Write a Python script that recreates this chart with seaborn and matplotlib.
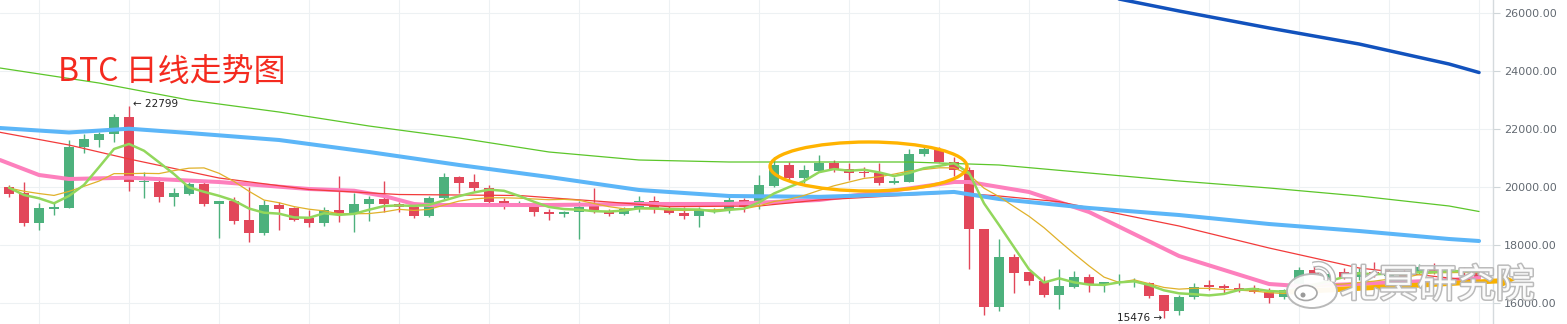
import numpy as np
import pandas as pd
import matplotlib
matplotlib.use("Agg")
import matplotlib.pyplot as plt
import seaborn as sns
from matplotlib.patches import Ellipse, FancyArrow, Arc, Circle
import matplotlib.patheffects as pe

# ---------------- data ----------------
open_ = [19990, 19803, 18769, 19252, 19286, 21369, 21631, 21817, 22403, 20172,
         20162, 19666, 19759, 20103, 19403, 19517, 18862, 18414, 19379, 19276,
         18931, 18769, 19207, 19069, 19403, 19586, 19414, 19300, 19010, 19610,
         20334, 20162, 19955, 19517, 19403, 19379, 19148, 19059, 19128, 19379,
         19148, 19059, 19266, 19528, 19207, 19093, 19010, 19172, 19231, 19552,
         19414, 20045, 20759, 20300, 20562, 20817, 20610, 20528, 20472, 20128,
         20183, 21128, 21300, 20872, 20586, 18552, 15873, 17576, 17059, 16759,
         16276, 16562, 16886, 16655, 16679, 16714, 16679, 16276, 15735, 16197,
         16621, 16586, 16507, 16507, 16390, 16207, 16655, 17138, 16793, 17059,
         16907, 17079, 16931, 17045, 17045, 17197, 17069, 17172, 17024]
close = [19759, 18769, 19266, 19300, 21369, 21655, 21827, 22403, 20162, 20207,
         19666, 19793, 20103, 19403, 19517, 18838, 18431, 19379, 19241, 18873,
         18769, 19207, 19103, 19414, 19586, 19403, 19321, 19010, 19610, 20334,
         20148, 19955, 19493, 19414, 19459, 19128, 19059, 19138, 19300, 19207,
         19059, 19241, 19528, 19286, 19093, 19000, 19207, 19207, 19552, 19300,
         20069, 20759, 20300, 20586, 20838, 20610, 20472, 20472, 20128, 20207,
         21128, 21300, 20872, 20586, 18541, 15873, 17576, 17045, 16769, 16276,
         16586, 16886, 16655, 16714, 16714, 16769, 16252, 15735, 16197, 16562,
         16562, 16507, 16424, 16390, 16183, 16448, 17138, 17000, 17000, 16907,
         17079, 16966, 17104, 16907, 17252, 17079, 17172, 17069, 16907]
high = [20069, 20183, 19459, 19438, 21621, 21817, 21886, 22507, 22799, 20528,
        20334, 19955, 20162, 20162, 19517, 19666, 20000, 19552, 19493, 19321,
        19190, 19321, 20379, 19793, 19690, 20207, 19493, 19379, 19690, 20472,
        20379, 20448, 20069, 19610, 19528, 19459, 19231, 19183, 19528, 19955,
        19231, 19321, 19690, 19700, 19345, 19321, 19300, 19266, 19666, 19610,
        20414, 21024, 20872, 20759, 21103, 20931, 20838, 20700, 20817, 20355,
        21300, 21448, 21390, 21045, 20700, 18560, 18197, 17690, 17070, 16942,
        17162, 17114, 17000, 16735, 17000, 16852, 16735, 16290, 16276, 16700,
        16793, 16655, 16700, 16620, 16507, 16470, 17240, 17345, 17104, 17207,
        17207, 17424, 17207, 17138, 17345, 17369, 17276, 17231, 17103]
low = [19645, 18655, 18517, 19035, 19270, 21162, 21369, 21562, 19872, 19631,
       19493, 19345, 19740, 19345, 18252, 18724, 18114, 18362, 18517, 18828,
       18621, 18655, 18804, 18459, 18828, 19148, 19148, 18921, 18955, 19576,
       19783, 19872, 19414, 19241, 19379, 19010, 18862, 18976, 18197, 19093,
       19000, 19035, 19148, 19093, 19069, 18886, 18631, 19114, 19093, 19148,
       19231, 20010, 20241, 20128, 20528, 20528, 20241, 20355, 20069, 20093,
       20170, 21069, 20852, 20390, 17162, 15586, 15724, 16335, 16621, 16217,
       15793, 16507, 16369, 16390, 16621, 16541, 16162, 15476, 15586, 16128,
       16448, 16355, 16390, 16345, 15990, 16138, 16380, 16966, 16724, 16828,
       16793, 16907, 16828, 16828, 17000, 17000, 17000, 16966, 16828]
# closes of the days just before the visible window (for the short averages)
prev_close = [19900, 20050, 19950, 19980, 19900, 20029, 19834, 20162, 20096]

# long moving averages (day index, price)
ma_green_day = [-0.6, 6, 12, 18, 24, 30, 36, 42, 48, 54, 60, 66, 72, 78, 84, 90, 96, 98]
ma_green_val = [24103, 23586, 23000, 22586, 22103, 21690, 21207, 20931, 20862, 20862,
                20862, 20759, 20483, 20207, 19966, 19690, 19345, 19155]
ma_blue_day = [-0.6, 4, 8, 12, 18, 24, 30, 36, 42, 48, 54, 60, 63, 66, 72, 78, 84, 90, 96, 98]
ma_blue_val = [22034, 21880, 22010, 21862, 21621, 21207, 20759, 20345, 19897, 19690,
               19660, 19759, 19830, 19586, 19276, 19034, 18724, 18483, 18207, 18138]
ma_red_day = [-0.6, 4, 8, 14, 20, 26, 34, 40, 44, 50, 54, 60, 63, 66, 70, 78, 84, 90, 96, 98]
ma_red_val = [21886, 21448, 20966, 20310, 19914, 19741, 19707, 19483, 19321, 19345,
              19552, 19724, 19803, 19690, 19493, 18655, 17897, 17207, 16862, 16759]
ma_pink_day = [-0.6, 2, 4, 8, 14, 20, 23, 25, 27, 28, 36, 42, 48, 54, 60, 63, 64, 66,
               68, 72, 78, 84, 86, 90, 96, 98]
ma_pink_val = [20931, 20414, 20276, 20321, 20172, 19931, 19872, 19690, 19414, 19379,
               19379, 19414, 19414, 19552, 19950, 20172, 20172, 20000, 19828, 19138,
               17621, 16655, 16586, 16655, 16793, 16862]
ma_dark_day = [72, 78, 84, 90, 96, 98]
ma_dark_val = [26689, 26069, 25483, 24931, 24241, 23948]

y_ticks = [16000, 18000, 20000, 22000, 24000, 26000]
title = "BTC 日线走势图"
watermark = "北冥研究院"

# ---------------- figure ----------------
sns.set_style("white")
plt.rcParams['font.family'] = ['DejaVu Sans']

W, H = 1567, 324
fig = plt.figure(figsize=(W / 100, H / 100), dpi=100)
ax = fig.add_axes([0, 0, 1493 / W, 1])

n = len(close)
days = np.arange(n)
df = pd.DataFrame({"day": days, "open": open_, "close": close, "high": high, "low": low})
up = df["close"] >= df["open"]
GREEN, RED = "#4db17d", "#e2475a"
colors = np.where(up, GREEN, RED)

# candles
ax.vlines(df["day"], df["low"], df["high"], colors=colors, lw=1.0, zorder=2)
body_bottom = np.minimum(df["open"], df["close"])
body_h = np.maximum(np.abs(df["close"] - df["open"]), 25)
ax.bar(df["day"], body_h, bottom=body_bottom, width=0.72, color=colors, zorder=2, linewidth=0)

# short moving averages from closes
allc = pd.Series(prev_close + close, dtype=float)
ma5 = allc.rolling(5).mean().iloc[len(prev_close):].to_numpy()
ma10 = allc.rolling(10).mean().iloc[len(prev_close):].to_numpy()

def line(x, y, color, lw, z):
    sns.lineplot(x=x, y=y, ax=ax, color=color, lw=lw, zorder=z, legend=False,
                 solid_capstyle='round', solid_joinstyle='round')

line(ma_green_day, ma_green_val, "#5cc62a", 0.9, 3)
line(ma_pink_day, ma_pink_val, "#fd80bd", 2.9, 3.1)
line(ma_red_day, ma_red_val, "#f23b3b", 0.9, 3.2)
line(ma_blue_day, ma_blue_val, "#5cb6f8", 2.9, 3.3)
line(ma_dark_day, ma_dark_val, "#1252bd", 2.5, 3.4)
line(days, ma10, "#e0b12a", 0.9, 3.5)
line(days, ma5, "#92d75c", 1.8, 3.6)

# axes cosmetics
ax.set_xlim(-0.6, 98.93)
ax.set_ylim(15276, 26448)
ax.yaxis.tick_right()
ax.set_yticks(y_ticks)
ax.set_yticklabels([f"{v:.2f}" for v in y_ticks])
ax.set_xticks(np.arange(2, 99, 6))
ax.tick_params(axis='x', length=0, labelbottom=False)
ax.tick_params(axis='y', length=5, width=0.8, color="#cfd6d9", labelcolor="#636a72",
               labelsize=8, pad=3)
ax.grid(True, color="#edf1f3", lw=0.8, zorder=0)
ax.set_axisbelow(True)
for s in ["left", "top", "bottom"]:
    ax.spines[s].set_visible(False)
ax.spines["right"].set_color("#d5dadd")
ax.spines["right"].set_linewidth(1.0)
ax.set_xlabel("")
ax.set_ylabel("")

# extreme labels
k_hi = int(np.argmax(high))
k_lo = int(np.argmin(low))
ax.text(k_hi + 0.25, high[k_hi] + 60, f"\u2190 {high[k_hi]}", fontsize=7.5, color="#222222",
        va="center", ha="left", zorder=6)
ax.text(k_lo - 0.15, low[k_lo] - 10, f"{low[k_lo]} \u2192", fontsize=7.5, color="#222222",
        va="center", ha="right", zorder=6)

# overlay for hand-drawn marks, title and watermark (pixel coordinates)
ov = fig.add_axes([0, 0, 1, 1], zorder=10)
ov.set_xlim(0, W)
ov.set_ylim(H, 0)
ov.axis("off")

ov.text(58, 72, title, fontsize=23, color="#f42a1f", family=["Noto Sans CJK SC", "DejaVu Sans"],
        va="center", ha="left")
ov.add_patch(Ellipse((868.5, 166.5), 197, 49, fill=False, edgecolor="#ffb300", lw=2.4))
ov.add_patch(FancyArrow(1290, 292, 225, -12, width=5, head_width=13, head_length=14,
                        length_includes_head=True, color="#f8b000", lw=0))

# weibo-like logo
ov.add_patch(Ellipse((1312, 291), 50, 34, facecolor="white", edgecolor="#b5b5b5", lw=1.4, alpha=0.95))
ov.add_patch(Ellipse((1306, 293), 22, 15, facecolor="white", edgecolor="#a8a8a8", lw=1.2))
ov.add_patch(Circle((1303, 295), 2.5, facecolor="#9a9a9a", edgecolor="none"))
ov.add_patch(Arc((1318, 279), 30, 30, theta1=-110, theta2=10, edgecolor="#b5b5b5", lw=4.5))
ov.add_patch(Arc((1318, 279), 30, 30, theta1=-110, theta2=10, edgecolor="white", lw=2.5))
ov.add_patch(Arc((1318, 279), 16, 16, theta1=-110, theta2=10, edgecolor="#b5b5b5", lw=3.5))
ov.add_patch(Arc((1318, 279), 16, 16, theta1=-110, theta2=10, edgecolor="white", lw=1.8))
ov.text(1340, 286, watermark, fontsize=28, color="white",
        family=["Noto Sans CJK SC", "DejaVu Sans"], va="center", ha="left", alpha=0.95,
        path_effects=[pe.withStroke(linewidth=2.2, foreground="#b8b8b8")])

fig.savefig("out.png", dpi=100, facecolor="white")
